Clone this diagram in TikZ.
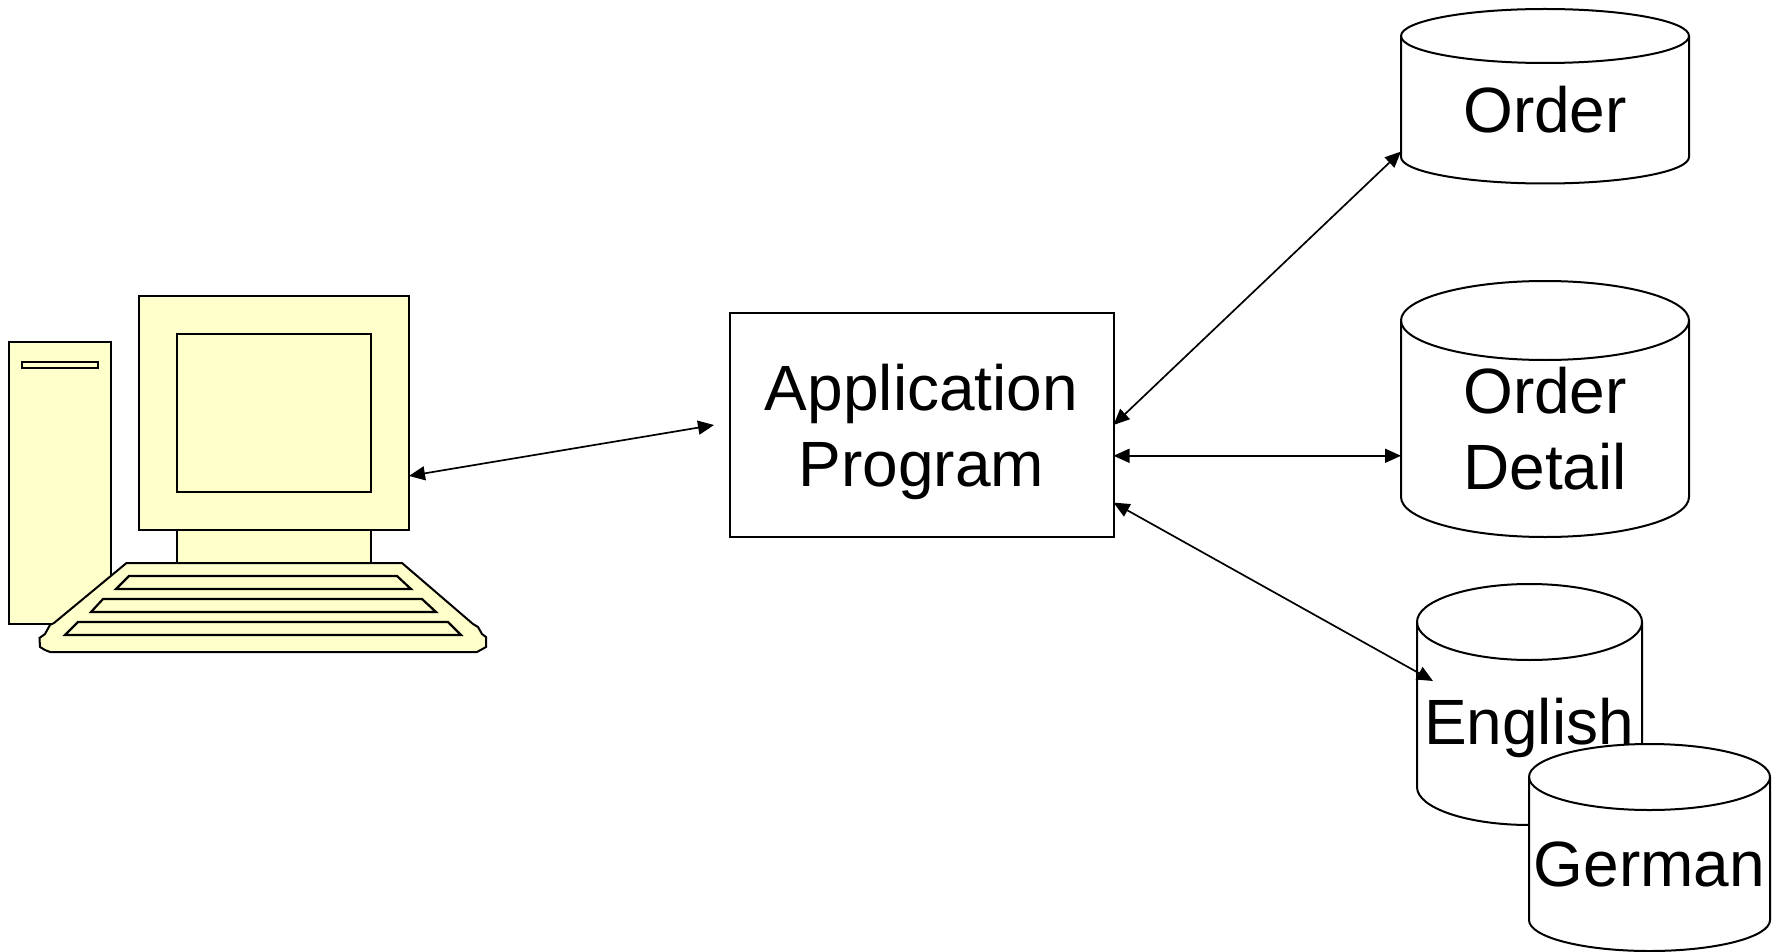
\documentclass[tikz,border=0pt]{standalone}
\usepackage{fontspec}
\setmainfont{Liberation Sans}
\usetikzlibrary{arrows.meta}
\definecolor{pcfill}{HTML}{FFFFCC}
\tikzset{
  ln/.style={line width=1pt,draw=black,line join=miter},
  pc/.style={ln,fill=pcfill},
  pcnode/.style={pc,rectangle,inner sep=0pt,outer sep=0pt},
  keyrow/.style={line width=1.1pt,draw=black,fill=pcfill,line join=miter},
  link/.style={line width=0.85pt,draw=black,{Triangle[length=8pt,width=7pt]}-{Triangle[length=8pt,width=7pt]}},
  label/.style={font=\fontsize{32pt}{38pt}\selectfont,inner sep=0pt,outer sep=0pt,align=center,text=black},
  body/.style={rectangle,inner sep=0pt,outer sep=0pt}
}
% #1 name, #2 x0, #3 x1, #4 top, #5 ellipse centre y, #6 side end y, #7 bottom
\newcommand{\dbcyl}[7]{%
  \pgfmathsetmacro{\crx}{(#3-#2)/2}%
  \pgfmathsetmacro{\cry}{#5-#4}%
  \pgfmathsetmacro{\crb}{#7-#6}%
  \draw[ln,fill=white] (#2,#5) -- (#2,#6) arc[start angle=180,end angle=360,x radius=\crx*0.5pt,y radius=\crb*0.5pt] -- (#3,#5) arc[start angle=0,end angle=180,x radius=\crx*0.5pt,y radius=\cry*0.5pt] -- cycle;
  \draw[ln] (#2,#5) arc[start angle=180,end angle=360,x radius=\crx*0.5pt,y radius=\cry*0.5pt];
  \pgfmathsetmacro{\cxm}{(#2+#3)/2}%
  \pgfmathsetmacro{\cym}{(#4+#7)/2}%
  \pgfmathsetmacro{\cw}{(#3-#2)*0.5}%
  \pgfmathsetmacro{\ch}{(#7-#4)*0.5}%
  \node[body,minimum width=\cw pt,minimum height=\ch pt] (#1) at (\cxm,\cym) {};
}
\begin{document}
\begin{tikzpicture}[x=0.5pt,y=-0.5pt]
\useasboundingbox (0,0) rectangle (1776,952);
\fill[white] (0,0) rectangle (1776,952);
% computer
\node[pcnode,minimum width=51pt,minimum height=141pt] (tower) at (60,483) {};
\node[pcnode,minimum width=38pt,minimum height=3pt] (slot) at (60,365) {};
\node[pcnode,minimum width=97pt,minimum height=17pt] (stand) at (274,546.5) {};
\node[pcnode,minimum width=135pt,minimum height=117pt] (monitor) at (274,413) {};
\node[pcnode,minimum width=97pt,minimum height=79pt] (screen) at (274,413) {};
\draw[pc] (126.5,563) -- (402,563) -- (473,624) -- (478,627) -- (482,634) -- (486,637) -- (486,647) -- (477,652) -- (50,652) -- (45,650) -- (40,647) -- (39.5,638) -- (45,634) -- (50,625) -- (54,623) -- cycle;
\draw[keyrow] (129,576) -- (397,576) -- (411,589) -- (116,589) -- cycle;
\draw[keyrow] (103,599) -- (422,599) -- (436,612) -- (91,612) -- cycle;
\draw[keyrow] (78,622) -- (448,622) -- (461,635) -- (65,635) -- cycle;
% application program
\node[ln,fill=white,rectangle,inner sep=0pt,outer sep=0pt,minimum width=192pt,minimum height=112pt] (app) at (921.5,425) {};
\node[label] (applabel) at (921.5,432) {Application\\Program};
% databases
\dbcyl{order}{1401}{1689}{9}{36}{157}{183.5}
\node[label,anchor=center] (orderlabel) at (1545,110) {Order};
\dbcyl{detail}{1401}{1689}{281}{320.5}{497}{537}
\node[label,anchor=center] (detaillabel) at (1545,429) {Order\\Detail};
\dbcyl{english}{1417}{1642}{584}{622}{787}{825}
\node[label,anchor=center] (englishlabel) at (1529,728) {English};
\coordinate (englishport) at (1433,681);
\coordinate (computerend) at (714,425);
% connectors
\draw[link] (monitor.-25) -- (computerend);
\draw[link] (app.east) -- (order.201.9);
\draw[link] (app.east |- detail.198.9) -- (detail.198.9);
\draw[link] (app.-22.6) -- (englishport);
\dbcyl{german}{1529}{1770}{744}{777}{920}{951}
\node[label,anchor=center] (germanlabel) at (1649.5,864) {German};
\end{tikzpicture}
\end{document}
